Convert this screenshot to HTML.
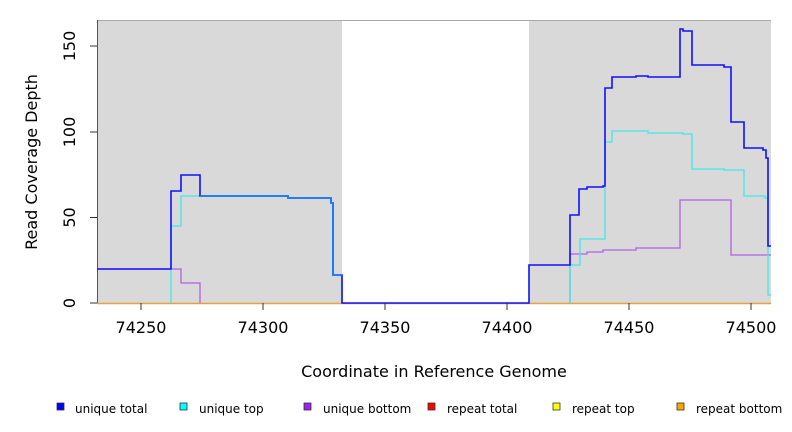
<!DOCTYPE html>
<html><head><meta charset="utf-8"><style>
body{margin:0;background:#fff;}
svg{display:block;font-family:"DejaVu Sans","Liberation Sans",sans-serif;}
</style></head><body>
<svg width="792" height="432" viewBox="0 0 792 432" xmlns="http://www.w3.org/2000/svg">
<rect x="97" y="20" width="245" height="283" fill="#d9d9d9"/>
<rect x="529" y="20" width="242" height="283" fill="#d9d9d9"/>
<line x1="97" y1="20.5" x2="771" y2="20.5" stroke="#aaa"/>
<line x1="97.5" y1="20" x2="97.5" y2="303" stroke="#555"/>
<line x1="97" y1="303.5" x2="771" y2="303.5" stroke="#e8a040" stroke-width="1.5"/>
<g fill="none" stroke-width="1.3">
<polyline stroke="#b060e8" points="97,269 181,269 181,283 200,283 200,303"/>
<polyline stroke="#b060e8" points="570,303 570,254 587,254 587,252 603,252 603,250 636,250 636,248 680,248 680,200 731,200 731,255 771,255"/>
<polyline stroke="#40e8e8" points="171,303 171,226 181,226 181,196 288,196 288,198 331,198 331,203 333,203 333,275 342,275 342,303"/>
<polyline stroke="#40e8e8" points="570,303 570,265 580,265 580,239 605,239 605,142 612,142 612,131 648,131 648,133 683,133 683,134 692,134 692,169 724,169 724,170 744,170 744,196 765,196 765,198 768,198 768,295 771,295"/>
<polyline stroke="#1010ff" stroke-width="1.6" points="97,269 171,269 171,191 181,191 181,175 200,175 200,196 288,196 288,198 331,198 331,203 333,203 333,275 342,275 342,303 529,303 529,265 570,265 570,215 579,215 579,189 587,189 587,187 603,187 603,186 605,186 605,88 612,88 612,77 636,77 636,76 648,76 648,77 680,77 680,29 683,29 683,31 692,31 692,65 724,65 724,67 731,67 731,122 744,122 744,148 763,148 763,150 766,150 766,158 768,158 768,246 771,246"/>
<polyline stroke="#1080ff" stroke-width="1.6" points="200,196 288,196 288,198 331,198 331,203 333,203 333,275 342,275"/>
</g>
<g stroke="#333" stroke-width="1">
<line x1="141" y1="303" x2="141" y2="310"/><line x1="263" y1="303" x2="263" y2="310"/>
<line x1="385" y1="303" x2="385" y2="310"/><line x1="507" y1="303" x2="507" y2="310"/>
<line x1="629" y1="303" x2="629" y2="310"/><line x1="751" y1="303" x2="751" y2="310"/>
<line x1="90" y1="303" x2="97" y2="303"/><line x1="90" y1="217.5" x2="97" y2="217.5"/>
<line x1="90" y1="132" x2="97" y2="132"/><line x1="90" y1="46" x2="97" y2="46"/>
</g>
<g font-size="16" fill="#000" text-anchor="middle">
<text x="141" y="333">74250</text><text x="263" y="333">74300</text><text x="385" y="333">74350</text>
<text x="507" y="333">74400</text><text x="629" y="333">74450</text><text x="751" y="333">74500</text>
<text transform="translate(75,303) rotate(-90)">0</text>
<text transform="translate(75,217.5) rotate(-90)">50</text>
<text transform="translate(75,132) rotate(-90)">100</text>
<text transform="translate(75,46) rotate(-90)">150</text>
<text x="434" y="377">Coordinate in Reference Genome</text>
<text transform="translate(37,162) rotate(-90)">Read Coverage Depth</text>
</g>
<g font-size="12" fill="#000" stroke="#333" stroke-width="0.8">
<rect x="57" y="403" width="7" height="7" fill="#0000ff"/>
<rect x="180" y="403" width="7" height="7" fill="#00ffff"/>
<rect x="304" y="403" width="7" height="7" fill="#a020f0"/>
<rect x="428" y="403" width="7" height="7" fill="#ff0000"/>
<rect x="553" y="403" width="7" height="7" fill="#ffff00"/>
<rect x="677" y="403" width="7" height="7" fill="#ffa500"/>
</g>
<g font-size="12" fill="#000">
<text x="75" y="413">unique total</text>
<text x="199" y="413">unique top</text>
<text x="323" y="413">unique bottom</text>
<text x="447" y="413">repeat total</text>
<text x="572" y="413">repeat top</text>
<text x="696" y="413">repeat bottom</text>
</g>
</svg>
</body></html>
